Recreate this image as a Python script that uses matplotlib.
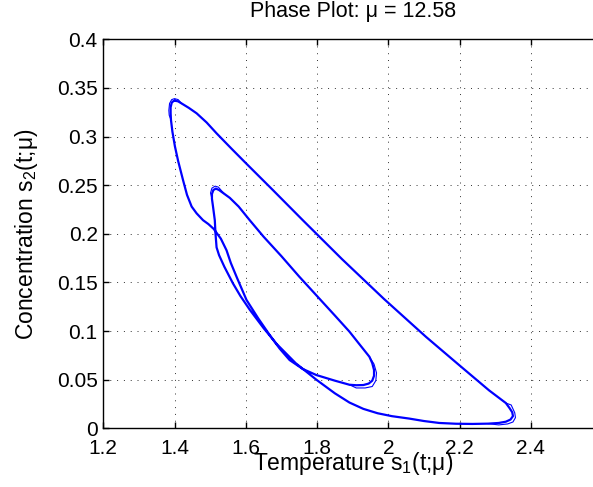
import numpy as np
import matplotlib
matplotlib.use('Agg')
import matplotlib.pyplot as plt

plt.rcParams['font.family'] = ['Liberation Sans', 'DejaVu Sans']
plt.rcParams['mathtext.fontset'] = 'custom'
plt.rcParams['mathtext.rm'] = 'Liberation Sans'

mu = 12.58

# phase orbit (one period = two loops)
# outer loop: top-left tip -> down the upper edge -> lower-right tip -> bottom
s1_outer = [1.401, 1.410, 1.420, 1.440, 1.462, 1.490, 1.518, 1.560, 1.602,
            1.676, 1.760, 1.870, 1.988, 2.106, 2.199, 2.283, 2.330, 2.340,
            2.348, 2.350, 2.343, 2.330, 2.310, 2.280, 2.236, 2.190, 2.143,
            2.100, 2.059, 2.010, 1.970, 1.930, 1.891, 1.850, 1.798, 1.740,
            1.686, 1.650, 1.611, 1.585, 1.564, 1.540, 1.525]
s2_outer = [0.3369, 0.3362, 0.3340, 0.3295, 0.3239, 0.3145, 0.3033, 0.2875, 0.2720,
            0.2450, 0.2140, 0.1740, 0.1330, 0.0940, 0.0650, 0.0390, 0.0260, 0.0210,
            0.0165, 0.0125, 0.0090, 0.0068, 0.0055, 0.0048, 0.0045, 0.0047, 0.0055,
            0.0075, 0.0100, 0.0125, 0.0155, 0.0200, 0.0265, 0.0360, 0.0500, 0.0670,
            0.0870, 0.1030, 0.1220, 0.1360, 0.1490, 0.1660, 0.1780]
# inner loop: up its left side -> small tip -> right tip -> back along its bottom
s1_inner = [1.518, 1.515, 1.513, 1.508, 1.505, 1.505, 1.509, 1.516, 1.525,
            1.540, 1.555, 1.580, 1.611, 1.650, 1.700, 1.750, 1.800, 1.850,
            1.891, 1.920, 1.947, 1.955, 1.960, 1.960, 1.955, 1.945, 1.930,
            1.910, 1.891, 1.850, 1.798, 1.760, 1.723, 1.695, 1.667, 1.635,
            1.602, 1.575, 1.558, 1.546]
s2_inner = [0.1860, 0.2000, 0.2140, 0.2280, 0.2360, 0.2410, 0.2450, 0.2465, 0.2450,
            0.2410, 0.2370, 0.2280, 0.2140, 0.1970, 0.1770, 0.1560, 0.1360, 0.1160,
            0.0994, 0.0860, 0.0736, 0.0670, 0.0600, 0.0540, 0.0490, 0.0460, 0.0445,
            0.0443, 0.0448, 0.0490, 0.0548, 0.0610, 0.0702, 0.0820, 0.0960, 0.1130,
            0.1320, 0.1550, 0.1700, 0.1830]
# back up the outer left side to the top tip
s1_left = [1.530, 1.510, 1.495, 1.480, 1.462, 1.448, 1.435, 1.424, 1.410,
           1.401, 1.394, 1.390, 1.389, 1.389, 1.392, 1.397, 1.401]
s2_left = [0.1950, 0.2050, 0.2100, 0.2140, 0.2210, 0.2280, 0.2400, 0.2550, 0.2750,
           0.2900, 0.3050, 0.3170, 0.3240, 0.3300, 0.3348, 0.3365, 0.3369]

# second pass of the orbit, visible only where it parts from the first (tips)
tip_top_s1 = [1.390, 1.385, 1.384, 1.386, 1.392, 1.400, 1.410, 1.420]
tip_top_s2 = [0.317, 0.322, 0.327, 0.334, 0.338, 0.339, 0.338, 0.334]
tip_in_s1 = [1.505, 1.501, 1.505, 1.514, 1.523, 1.540]
tip_in_s2 = [0.236, 0.242, 0.247, 0.249, 0.248, 0.241]
tip_right_s1 = [1.947, 1.960, 1.967, 1.965, 1.955, 1.935, 1.910, 1.891]
tip_right_s2 = [0.0736, 0.066, 0.057, 0.049, 0.043, 0.0415, 0.0415, 0.0448]
tip_low_s1 = [2.330, 2.345, 2.355, 2.357, 2.350, 2.335, 2.310, 2.280]
tip_low_s2 = [0.026, 0.024, 0.016, 0.011, 0.0065, 0.0045, 0.0035, 0.0048]

xticks = [1.2, 1.4, 1.6, 1.8, 2.0, 2.2, 2.4, 2.6]
xticklabels = ['1.2', '1.4', '1.6', '1.8', '2', '2.2', '2.4', '']
yticks = [0, 0.05, 0.1, 0.15, 0.2, 0.25, 0.3, 0.35, 0.4]
yticklabels = ['0', '0.05', '0.1', '0.15', '0.2', '0.25', '0.3', '0.35', '0.4']

s1 = np.concatenate([s1_outer, s1_inner, s1_left])
s2 = np.concatenate([s2_outer, s2_inner, s2_left])

fig = plt.figure(figsize=(5.93, 4.87), dpi=100)
# right edge of the axes runs past the picture, as in the reference
ax = fig.add_axes([0.1742, 0.1205, 0.841, 0.7988])

ax.plot(s1, s2, '-', color='#0000ff', lw=1.6, solid_joinstyle='round')
for tx, ty in [(tip_top_s1, tip_top_s2), (tip_in_s1, tip_in_s2),
               (tip_right_s1, tip_right_s2), (tip_low_s1, tip_low_s2)]:
    ax.plot(tx, ty, '-', color='#0000ff', lw=0.8)

ax.set_xlim(1.2, 2.6)
ax.set_ylim(0, 0.4)
ax.set_xticks(xticks)
ax.set_xticklabels(xticklabels)
ax.set_yticks(yticks)
ax.set_yticklabels(yticklabels)
ax.tick_params(direction='in', length=4, width=1, labelsize=15,
               top=True, right=True)
ax.tick_params(axis='x', pad=7.5)
ax.tick_params(axis='y', pad=4)
ax.grid(True, linestyle=(0, (1, 6)), color='#303030', linewidth=0.7)
for sp in ax.spines.values():
    sp.set_linewidth(1)

ax.set_title(f'Phase Plot: μ = {mu}', fontsize=15.5, pad=16)
ax.set_xlabel(r'Temperature $\mathregular{s_1}$(t;μ)', fontsize=16.5, va='baseline')
ax.xaxis.set_label_coords(0.5, -0.1071)
ax.set_ylabel(r'Concentration $\mathregular{s_2}$(t;μ)', fontsize=16.5,
              va='baseline', ha='center', rotation_mode='anchor')
ax.yaxis.set_label_coords(-0.141, 0.5)

fig.savefig('out.png', dpi=100)
